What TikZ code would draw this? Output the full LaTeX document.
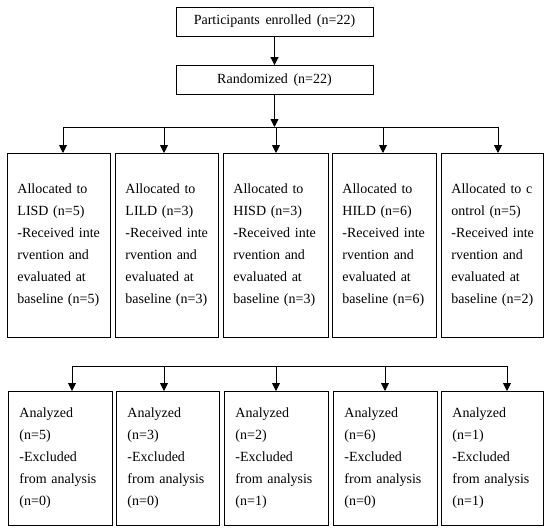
\documentclass[tikz,border=0pt]{standalone}
\usepackage{fontspec}
\setmainfont[WordSpace=1.6]{Liberation Serif}
\usepackage{tikz}
\usetikzlibrary{positioning, arrows.meta}

\begin{document}
\begin{tikzpicture}[x=1pt, y=-1pt,
  box/.style={draw, line width=0.9pt, inner sep=0pt, font=\fontsize{14}{22}\selectfont},
  wide/.style={box, minimum width=197pt, minimum height=29pt},
  grp/.style={box, anchor=north west, align=left, inner xsep=10pt, minimum height=184pt},
  res/.style={box, anchor=north west, align=left, inner xsep=11pt, minimum height=134pt},
  arr/.style={-{Triangle[length=8pt, width=8pt]}, line width=0.9pt}]
\useasboundingbox (0,0) rectangle (550,531);

% Top: enrolment and randomisation
\node[wide] (enrol) at (274.5,21.5) {Participants enrolled (n=22)};
\node[wide] (rand) at (274.5,80) {Randomized (n=22)};
\draw[arr] (enrol) -- (rand);

% Allocation groups
\node[grp, text width=83pt] (alloc1) at (7,153) {\mbox{Allocated to}\\\mbox{LISD (n=5)}\\\mbox{-Received inte}\\\mbox{rvention and}\\\mbox{evaluated at}\\\mbox{baseline (n=5)}};
\node[grp, text width=83pt] (alloc2) at (115,153) {\mbox{Allocated to}\\\mbox{LILD (n=3)}\\\mbox{-Received inte}\\\mbox{rvention and}\\\mbox{evaluated at}\\\mbox{baseline (n=3)}};
\node[grp, text width=85pt] (alloc3) at (223,153) {\mbox{Allocated to}\\\mbox{HISD (n=3)}\\\mbox{-Received inte}\\\mbox{rvention and}\\\mbox{evaluated at}\\\mbox{baseline (n=3)}};
\node[grp, text width=84pt] (alloc4) at (332,153) {\mbox{Allocated to}\\\mbox{HILD (n=6)}\\\mbox{-Received inte}\\\mbox{rvention and}\\\mbox{evaluated at}\\\mbox{baseline (n=6)}};
\node[grp, text width=82pt] (alloc5) at (441,153) {\mbox{Allocated to c}\\\mbox{ontrol (n=5)}\\\mbox{-Received inte}\\\mbox{rvention and}\\\mbox{evaluated at}\\\mbox{baseline (n=2)}};

% Split line above the groups
\coordinate (s1) at (63,127);
\coordinate (s2) at (164,127);
\coordinate (s3) at (276,127);
\coordinate (s4) at (383,127);
\coordinate (s5) at (498,127);
\draw[line width=0.9pt] (s1) -- (s5);
\draw[arr] (rand) -- (rand |- s1);
\draw[arr] (s1) -- (s1 |- alloc1.north);
\draw[arr] (s2) -- (s2 |- alloc2.north);
\draw[arr] (s3) -- (s3 |- alloc3.north);
\draw[arr] (s4) -- (s4 |- alloc4.north);
\draw[arr] (s5) -- (s5 |- alloc5.north);

% Analysis boxes
\node[res, text width=82pt] (anal1) at (8,391) {Analyzed\\(n=5)\\\mbox{-Excluded}\\\mbox{from analysis}\\(n=0)};
\node[res, text width=81pt] (anal2) at (116,391) {Analyzed\\(n=3)\\\mbox{-Excluded}\\\mbox{from analysis}\\(n=0)};
\node[res, text width=82pt] (anal3) at (224,391) {Analyzed\\(n=2)\\\mbox{-Excluded}\\\mbox{from analysis}\\(n=1)};
\node[res, text width=82pt] (anal4) at (333,391) {Analyzed\\(n=6)\\\mbox{-Excluded}\\\mbox{from analysis}\\(n=0)};
\node[res, text width=80pt] (anal5) at (441,391) {Analyzed\\(n=1)\\\mbox{-Excluded}\\\mbox{from analysis}\\(n=1)};

% Split line above the analysis boxes
\coordinate (t1) at (72,366);
\coordinate (t2) at (164,366);
\coordinate (t3) at (276,366);
\coordinate (t4) at (385,366);
\coordinate (t5) at (507,366);
\draw[line width=0.9pt] (t1) -- (t5);
\draw[arr] (t1) -- (t1 |- anal1.north);
\draw[arr] (t2) -- (t2 |- anal2.north);
\draw[arr] (t3) -- (t3 |- anal3.north);
\draw[arr] (t4) -- (t4 |- anal4.north);
\draw[arr] (t5) -- (t5 |- anal5.north);
\end{tikzpicture}
\end{document}
